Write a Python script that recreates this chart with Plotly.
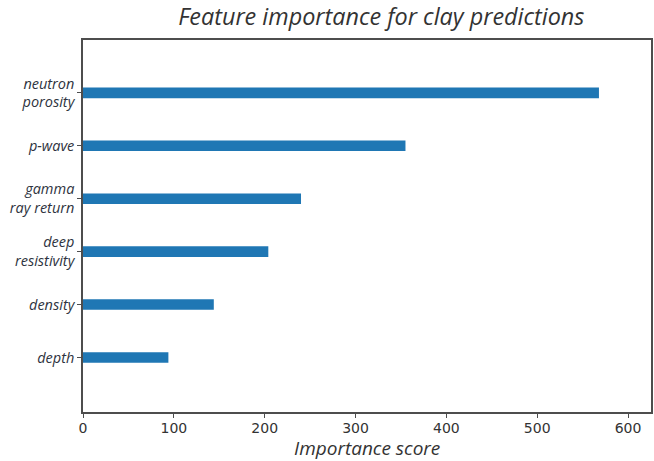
import plotly.graph_objects as go

features = ["depth", "density", "deep<br>resistivity", "gamma<br>ray return", "p-wave", "neutron<br>porosity"]
scores = [94, 144, 204, 240, 355, 568]
x_ticks = [0, 100, 200, 300, 400, 500, 600]

pos = list(range(len(features)))

fig = go.Figure(go.Bar(
    x=scores, y=pos, orientation="h", width=0.2,
    marker=dict(color="#1f77b4", line=dict(width=0)),
))

axis_line = dict(showline=True, linecolor="#4d4d4d", linewidth=1.5, mirror=True,
                 showgrid=False, zeroline=False, ticks="outside", ticklen=4,
                 tickcolor="#4d4d4d", tickwidth=1.2)

fig.update_layout(
    width=654, height=461,
    margin=dict(l=83, r=3, t=40, b=49, autoexpand=False),
    plot_bgcolor="white", paper_bgcolor="white",
    showlegend=False,
    title=dict(text="<i>Feature importance for clay predictions</i>",
               x=0.583, xanchor="center", y=1 - 17 / 461, yanchor="middle",
               font=dict(family="Open Sans", size=23.4, color="#333333")),
    xaxis=dict(range=[0, 625.3], tickvals=x_ticks, ticklabelstandoff=-2,
               tickfont=dict(family="DejaVu Sans", size=14, color="#333333"),
               **axis_line),
    yaxis=dict(range=[-1.03, 6.0], tickvals=pos, ticktext=["<i>%s</i>" % f for f in features],
               tickfont=dict(family="Open Sans", size=14.5, color="#2e3340"),
               **axis_line),
    annotations=[dict(text="<i>Importance score</i>", xref="paper", yref="paper",
                      x=0.5, y=-(448 - 412) / 372, xanchor="center", yanchor="middle",
                      showarrow=False,
                      font=dict(family="Open Sans", size=19, color="#333333"))],
)

fig.write_html("out.html", config={"displayModeBar": False},
               post_script="document.body.style.margin='0';")
